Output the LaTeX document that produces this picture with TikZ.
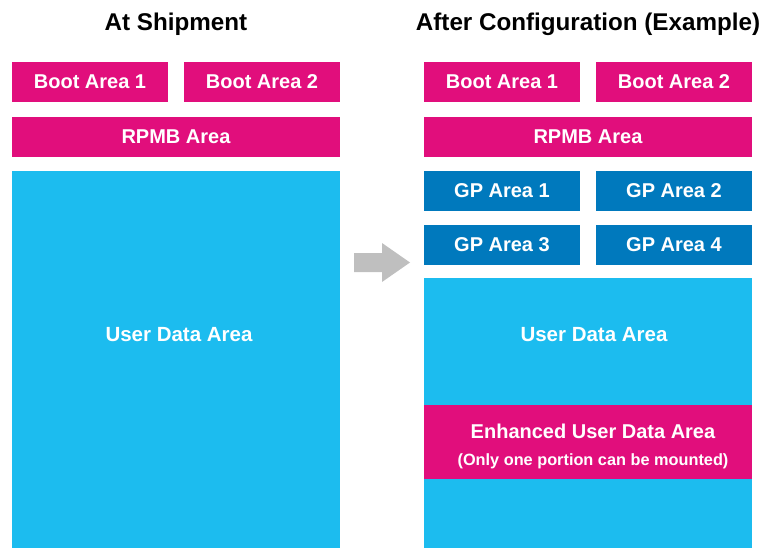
\documentclass[tikz,border=0pt]{standalone}
\usepackage{fontspec}
\setmainfont{Liberation Sans}
\usetikzlibrary{positioning}
\definecolor{magentabox}{HTML}{E10E7C}
\definecolor{gpblue}{HTML}{0079BD}
\definecolor{userblue}{HTML}{1CBCEF}
\definecolor{arrowgray}{HTML}{BFBFBF}
\tikzset{
	area/.style={rectangle,inner sep=0pt,text=white,font=\bfseries\fontsize{20}{24}\selectfont,minimum height=40pt},
	half/.style={area,minimum width=156pt},
	full/.style={area,minimum width=328pt},
	bootbox/.style={half,fill=magentabox},
	rpmbbox/.style={full,fill=magentabox},
	gpbox/.style={half,fill=gpblue},
	userbox/.style={full,fill=userblue},
	title/.style={font=\bfseries\fontsize{24.2}{28}\selectfont}
}
\begin{document}
\begin{tikzpicture}[x=1pt,y=-1pt]
	\useasboundingbox (0,0) rectangle (778,548);
	% at shipment
	\node[title] (T1) at (176,24) {At Shipment};
	\node[bootbox] (B1) at (90,82) {Boot Area 1};
	\node[bootbox] (B2) at (262,82) {Boot Area 2};
	\node[rpmbbox] (R) at (176,137) {RPMB Area};
	\node[userbox,minimum height=377pt] (U) at (176,359.5) {};
	\node[area,font=\bfseries\fontsize{20.5}{24}\selectfont] (Ulbl) at (179,335) {User Data Area};

	% arrow
	\fill[arrowgray] (354,253) -- (382,253) -- (382,243) -- (410,262.5)
		-- (382,282) -- (382,272) -- (354,272) -- cycle;

	% after configuration
	\node[title] (T2) at (588,24) {After Configuration (Example)};
	\node[bootbox] (B1c) at (502,82) {Boot Area 1};
	\node[bootbox] (B2c) at (674,82) {Boot Area 2};
	\node[rpmbbox] (Rc) at (588,137) {RPMB Area};
	\node[gpbox] (G1) at (502,191) {GP Area 1};
	\node[gpbox] (G2) at (674,191) {GP Area 2};
	\node[gpbox] (G3) at (502,245) {GP Area 3};
	\node[gpbox] (G4) at (674,245) {GP Area 4};
	\node[userbox,minimum height=270pt] (Uc) at (588,413) {};
	\node[area,font=\bfseries\fontsize{20.5}{24}\selectfont] (Uclbl) at (594,335) {User Data Area};
	\node[rpmbbox,minimum height=74pt] (E) at (588,442) {};
	\node[area,align=center] (Elbl) at (593,446)
		{Enhanced User Data Area\\[3pt]{\fontsize{16.3}{20}\selectfont(Only one portion can be mounted)}};
\end{tikzpicture}
\end{document}
